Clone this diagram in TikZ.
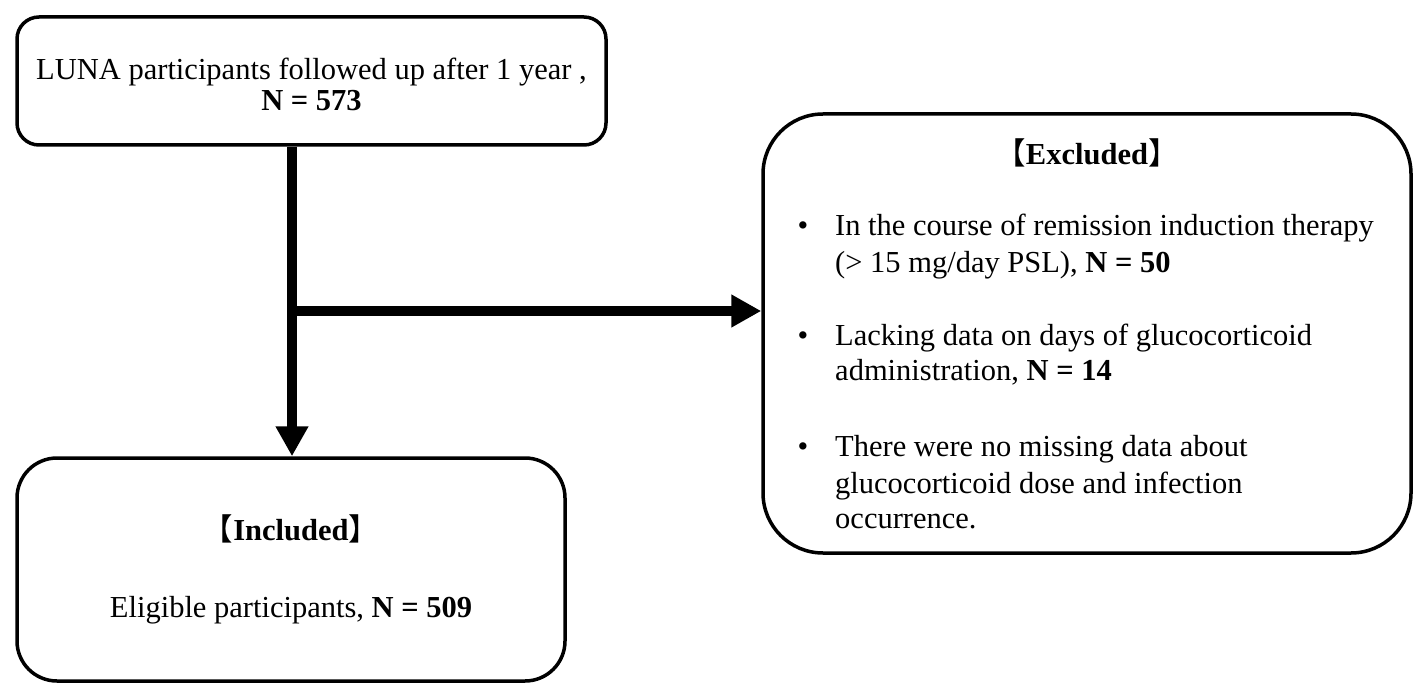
\documentclass[tikz,border=0pt]{standalone}
\usepackage{fontspec}
\setmainfont{Liberation Serif}
\newfontfamily\cjkfont{Noto Sans CJK SC}
\usetikzlibrary{arrows.meta}
\newcommand{\lb}{{\cjkfont 【}}
\newcommand{\rb}{{\cjkfont 】}}
\begin{document}
\begin{tikzpicture}[x=1pt,y=-1pt,
  box/.style={draw,line width=3.5pt,rounded corners=#1,inner sep=0pt},
  txt/.style={inner sep=0pt,font=\fontsize{30.5}{36}\selectfont},
  arr/.style={line width=10pt,-{Triangle[length=30pt,width=31pt]}},
  link/.style={line width=10pt}]
\useasboundingbox (0,0) rectangle (1413,684);
% boxes
\node[box=22pt, minimum width=589pt, minimum height=128pt] (top) at (311.5,81) {};
\node[box=60pt, minimum width=648pt, minimum height=439pt] (excl) at (1087,333.5) {};
\node[box=40pt, minimum width=548pt, minimum height=223pt] (incl) at (291,569.5) {};
% top text
\node[txt,anchor=base] (t1) at (311.5,80) {LUNA participants followed up after 1 year ,};
\node[txt,anchor=base] (t2) at (311.5,111) {\textbf{N = 573}};
% excluded text
\node[txt,anchor=base] (et) at (1087,165) {\lb\textbf{Excluded}\rb};
\node[txt,anchor=base] (eb1) at (803,236) {\textbullet};
\node[txt,anchor=base west] (e1a) at (835,236) {In the course of remission induction therapy};
\node[txt,anchor=base west] (e1b) at (835,273) {(> 15 mg/day PSL), \textbf{N = 50}};
\node[txt,anchor=base] (eb2) at (803,345) {\textbullet};
\node[txt,anchor=base west] (e2a) at (835,345) {Lacking data on days of glucocorticoid};
\node[txt,anchor=base west] (e2b) at (835,381) {administration, \textbf{N = 14}};
\node[txt,anchor=base] (eb3) at (803,456) {\textbullet};
\node[txt,anchor=base west] (e3a) at (835,456) {There were no missing data about};
\node[txt,anchor=base west] (e3b) at (835,493) {glucocorticoid dose and infection};
\node[txt,anchor=base west] (e3c) at (835,528) {occurrence.};
% included text
\node[txt,anchor=base] (it) at (291,540) {\lb\textbf{Included}\rb};
\node[txt,anchor=base] (i1) at (291,617) {Eligible participants, \textbf{N = 509}};
% connectors
\coordinate (split) at (292,311);
\draw[arr] (top.south -| split) -- (incl.north -| split);
\draw[arr] (split) -- (excl.west |- split);
\end{tikzpicture}
\end{document}
